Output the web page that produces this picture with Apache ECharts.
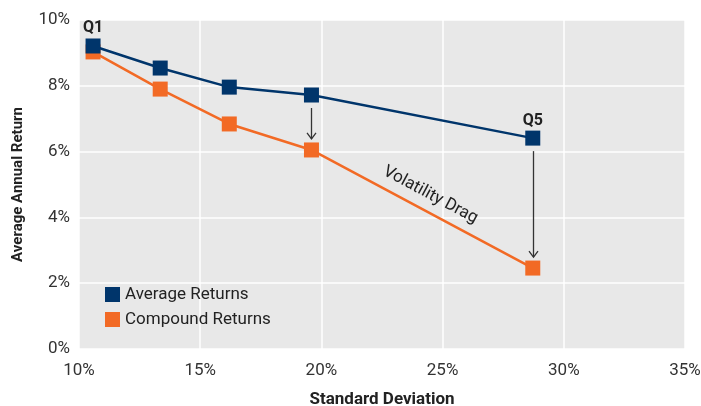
<!DOCTYPE html>
<html lang="en">
<head>
    <meta charset="UTF-8">
    <title>Volatility Drag</title>
    <script src="https://cdn.jsdelivr.net/npm/echarts/dist/echarts.min.js"></script>
    <style>
        body { margin: 0; background: #fff; }
        #chart { width: 701px; height: 406px; }
    </style>
</head>
<body>
    <div id="chart"></div>
    <script type="text/javascript">
        // quintile data: standard deviation (%) and returns (%)
        var stdDev = [10.58, 13.35, 16.2, 19.59, 28.72];
        var avgReturns = [9.21, 8.54, 7.96, 7.72, 6.41];
        var compoundReturns = [9.03, 7.90, 6.84, 6.05, 2.46];
        var quintileLabels = ['Q1', '', '', '', 'Q5'];
        var arrowAt = [3, 4]; // arrows from average to compound
        var navy = '#00356b';
        var orange = '#f26a25';
        var font = 'Roboto';

        function pairs(ys, withLabels) {
            return stdDev.map(function (x, i) {
                var item = { value: [x, ys[i]] };
                if (withLabels && quintileLabels[i]) {
                    item.label = { show: true, formatter: quintileLabels[i] };
                }
                return item;
            });
        }

        var chart = echarts.init(document.getElementById('chart'));
        chart.setOption({
            animation: false,
            textStyle: { fontFamily: font },
            grid: {
                left: 79, right: 16, top: 20, bottom: 57,
                outerBoundsMode: 'none', containLabel: false,
                show: true, backgroundColor: '#e8e8e8', borderWidth: 0
            },
            legend: {
                data: ['Average Returns', 'Compound Returns'],
                orient: 'vertical',
                left: 100, top: 281,
                icon: 'rect', itemWidth: 15, itemHeight: 15, itemGap: 8,
                textStyle: { fontSize: 17, color: '#222', fontFamily: font }
            },
            xAxis: {
                type: 'value', min: 10, max: 35, interval: 5,
                name: 'Standard Deviation', nameLocation: 'middle', nameGap: 42,
                nameTextStyle: { fontSize: 17, fontWeight: 'bold', color: '#222' },
                axisLine: { show: false }, axisTick: { show: false },
                axisLabel: { formatter: '{value}%', fontSize: 17, color: '#333', margin: 13 },
                splitLine: { lineStyle: { color: '#fff', width: 1.5 } }
            },
            yAxis: {
                type: 'value', min: 0, max: 10, interval: 2,
                name: 'Average Annual Return', nameLocation: 'middle', nameGap: 53,
                nameTextStyle: { fontSize: 15, fontWeight: 'bold', color: '#222' },
                axisLine: { show: false }, axisTick: { show: false },
                axisLabel: { formatter: '{value}%', fontSize: 17, color: '#333', margin: 9 },
                splitLine: { lineStyle: { color: '#fff', width: 1.5 } }
            },
            series: [
                {
                    name: 'Compound Returns', type: 'line',
                    data: pairs(compoundReturns, false),
                    symbol: 'rect', symbolSize: 15,
                    itemStyle: { color: orange },
                    lineStyle: { color: orange, width: 2.5 },
                    z: 2
                },
                {
                    name: 'Average Returns', type: 'line',
                    data: pairs(avgReturns, true),
                    symbol: 'rect', symbolSize: 15,
                    itemStyle: { color: navy },
                    lineStyle: { color: navy, width: 2.5 },
                    label: { position: 'top', distance: 2, fontSize: 16, fontWeight: 'bold', color: '#222' },
                    z: 3
                }
            ]
        });

        // annotations: arrows and the "Volatility Drag" text
        var graphics = [];
        arrowAt.forEach(function (i) {
            var top = chart.convertToPixel({ gridIndex: 0 }, [stdDev[i], avgReturns[i]]);
            var bot = chart.convertToPixel({ gridIndex: 0 }, [stdDev[i], compoundReturns[i]]);
            var x = Math.round(top[0]) + 0.5;
            var y1 = top[1] + 13, y2 = bot[1] - 11;
            graphics.push({
                type: 'line', shape: { x1: x, y1: y1, x2: x, y2: y2 },
                style: { stroke: '#333', lineWidth: 1.3 }, z: 10
            });
            graphics.push({
                type: 'polyline', shape: { points: [[x - 4.5, y2 - 6], [x, y2], [x + 4.5, y2 - 6]] },
                style: { stroke: '#333', lineWidth: 1.3, fill: null }, z: 10
            });
        });
        var textPos = chart.convertToPixel({ gridIndex: 0 }, [24.5, 4.68]);
        graphics.push({
            type: 'text', x: textPos[0], y: textPos[1],
            rotation: -28 * Math.PI / 180,
            style: {
                text: 'Volatility Drag', font: '17px ' + font, fill: '#222',
                align: 'center', verticalAlign: 'middle'
            },
            z: 10
        });
        chart.setOption({ graphic: graphics });
    </script>
</body>
</html>
